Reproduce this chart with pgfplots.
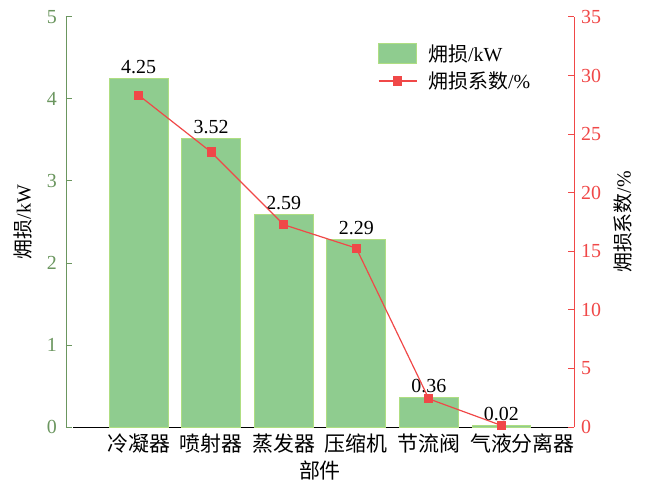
\documentclass[border=0pt]{standalone}
\usepackage{pgfplots}
\pgfplotsset{compat=1.18}
\usepackage{fontspec}
\setmainfont{Liberation Serif}
\newfontfamily\cjk{Noto Sans CJK SC}
\definecolor{barg}{RGB}{143,204,143}
\definecolor{baredge}{RGB}{175,222,130}
\definecolor{axg}{RGB}{107,150,95}
\definecolor{lred}{RGB}{240,72,72}
\begin{document}
\begin{tikzpicture}
\path[use as bounding box] (-66bp,-56bp) rectangle (583bp,427bp);
\begin{axis}[
  at={(0,0)}, anchor=south west,
  scale only axis, width=508bp, height=410bp,
  xmin=-1, xmax=6, ymin=0, ymax=5,
  axis y line*=left, axis x line*=bottom,
  y axis line style={axg, line width=1pt},
  x axis line style={black, line width=1pt, shorten <=7bp},
  ytick={0,1,2,3,4,5},
  yticklabel style={axg, font=\fontsize{20}{20}\selectfont, inner sep=0pt, anchor=east, xshift=-9bp},
  ytick style={axg, line width=1pt},
  xtick={0,1,2,3,4,5},
  xticklabels={{\cjk 冷凝器},{\cjk 喷射器},{\cjk 蒸发器},{\cjk 压缩机},{\cjk 节流阀},{\cjk\hspace*{42bp}气液分离器}},
  xticklabel style={font=\fontsize{21}{21}\selectfont, inner sep=0pt, anchor=center, yshift=-17bp},
  xtick style={black, line width=1pt},
  major tick length=6bp,
  tick align=inside,
  xlabel={\cjk 部件}, xlabel style={font=\fontsize{21}{21}\selectfont, at={(axis description cs:0.5,0)}, anchor=center, yshift=-44bp},
  ylabel={{\cjk 㶲损}/kW}, ylabel style={font=\fontsize{20}{20}\selectfont, at={(axis description cs:0,0.5)}, anchor=center, rotate=0, yshift=43bp},
  /pgf/number format/assume math mode=true,
  clip=false,
]
\addplot[ybar, bar width=0.81, fill=barg, draw=baredge, line width=0.8pt,
  nodes near coords, nodes near coords style={font=\fontsize{20}{20}\selectfont, black, inner sep=0pt, anchor=south, yshift=4bp, /pgf/number format/fixed, /pgf/number format/precision=2, /pgf/number format/fixed zerofill}]
  coordinates {(0,4.25) (1,3.52) (2,2.59) (3,2.29) (4,0.36) (5,0.02)};
\end{axis}
\begin{axis}[
  at={(0,0)}, anchor=south west,
  scale only axis, width=508bp, height=410bp,
  xmin=-1, xmax=6, ymin=0, ymax=35,
  axis y line*=right, axis x line=none,
  y axis line style={lred, line width=1pt},
  ytick={0,5,...,35},
  yticklabel style={lred, font=\fontsize{20}{20}\selectfont, inner sep=0pt, anchor=west, xshift=7bp},
  ytick style={lred, line width=1pt},
  major tick length=6bp,
  tick align=inside,
  ylabel={{\cjk 㶲损系数}/\%}, ylabel style={font=\fontsize{20}{20}\selectfont, at={(axis description cs:1,0.5)}, anchor=center, yshift=-49bp},
  /pgf/number format/assume math mode=true,
  legend style={draw=none, fill=none, at={(0.614,0.938)}, anchor=north west, inner sep=0pt, font=\fontsize{20}{20}\selectfont, row sep=5bp,
    nodes={inner sep=2bp}},
  legend cell align=left,
  clip=false,
]
\addlegendimage{legend image code/.code={\draw[fill=barg, draw=baredge, line width=0.8pt] (0bp,-10bp) rectangle (38bp,10bp);}}
\addlegendentry{\hspace*{9bp}{\cjk 㶲损}/kW}
\addplot[lred, line width=1.2pt, mark=square*, mark size=4bp, mark options={fill=lred},
  legend image code/.code={\draw[lred, line width=1.2pt] (0bp,0bp) -- (38bp,0bp); \fill[lred] (15bp,-4bp) rectangle (23bp,4bp);}]
  coordinates {(0,28.33) (1,23.47) (2,17.27) (3,15.27) (4,2.40) (5,0.13)};
\addlegendentry{\hspace*{9bp}{\cjk 㶲损系数}/\%}
\end{axis}
\end{tikzpicture}
\end{document}
